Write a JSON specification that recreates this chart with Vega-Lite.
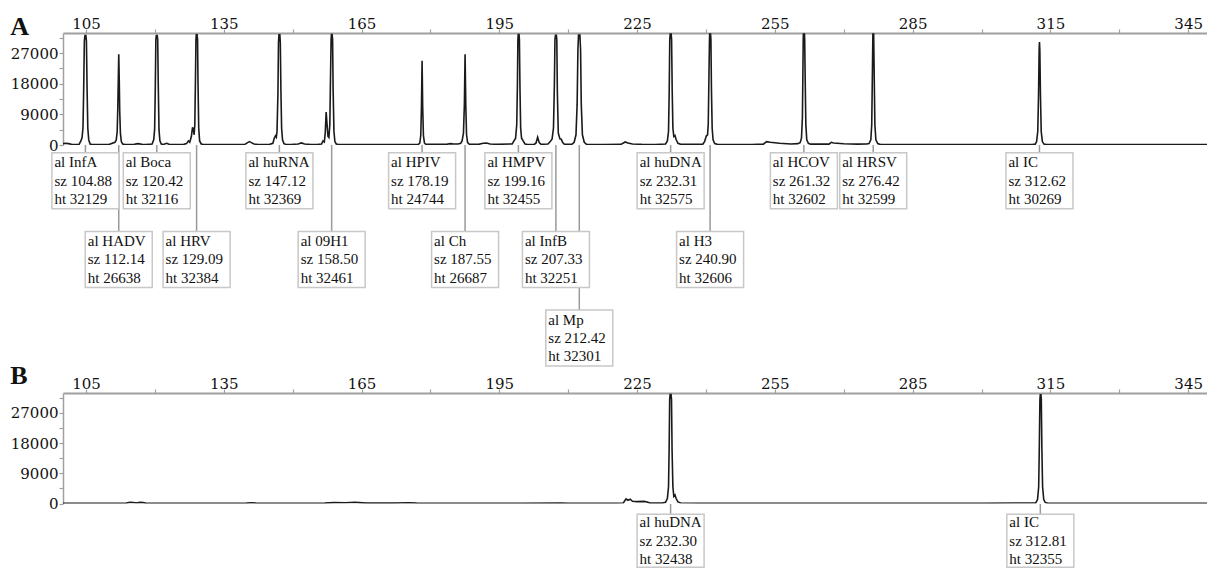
{
"$schema":"https://vega.github.io/schema/vega-lite/v6.json",
"background":"white",
"padding":{"left":10,"top":14,"right":0,"bottom":0},
"spacing":0,
"bounds":"flush",
"config":{"view":{"stroke":null},"font":"DejaVu Serif",
 "axis":{"grid":false,"title":null,"domainColor":"#a0a0a0","tickColor":"#a0a0a0","tickSize":4,"tickWidth":1.2,"labelFont":"DejaVu Serif","labelFontSize":15,"labelColor":"#111","labelPadding":1,"labelOverlap":false,"labelFlush":false,"format":"d"},
 "axisTop":{"labelPadding":-2}},
"datasets":{
"traceA":[{"s":100,"v":400},{"s":100.5,"v":500},{"s":101.2,"v":400},{"s":102,"v":150},{"s":103.5,"v":200},{"s":103.9,"v":1200},{"s":104.15,"v":2200},{"s":104.35,"v":5000},{"s":104.5,"v":16000},{"s":104.65,"v":30500},{"s":104.78,"v":32129},{"s":104.98,"v":32129},{"s":105.1,"v":30500},{"s":105.25,"v":16000},{"s":105.4,"v":5000},{"s":105.6,"v":1500},{"s":105.9,"v":300},{"s":106.3,"v":150},{"s":108,"v":100},{"s":110,"v":150},{"s":111.3,"v":800},{"s":111.6,"v":1500},{"s":111.8,"v":4000},{"s":111.95,"v":12000},{"s":112.05,"v":20000},{"s":112.14,"v":26638},{"s":112.25,"v":19000},{"s":112.35,"v":10000},{"s":112.5,"v":3500},{"s":112.7,"v":1000},{"s":113,"v":300},{"s":113.5,"v":150},{"s":115.5,"v":200},{"s":116.3,"v":400},{"s":117.2,"v":200},{"s":118,"v":100},{"s":119.4,"v":300},{"s":119.75,"v":1500},{"s":119.95,"v":4500},{"s":120.1,"v":17000},{"s":120.22,"v":31000},{"s":120.32,"v":32116},{"s":120.52,"v":32116},{"s":120.62,"v":31000},{"s":120.75,"v":17000},{"s":120.9,"v":4500},{"s":121.1,"v":1200},{"s":121.4,"v":300},{"s":121.8,"v":150},{"s":122.6,"v":500},{"s":123.2,"v":150},{"s":125,"v":100},{"s":126.3,"v":200},{"s":126.9,"v":400},{"s":127.3,"v":1200},{"s":127.6,"v":800},{"s":127.95,"v":2500},{"s":128.2,"v":5200},{"s":128.4,"v":4500},{"s":128.55,"v":3000},{"s":128.7,"v":6000},{"s":128.85,"v":20000},{"s":128.95,"v":31000},{"s":129.02,"v":32384},{"s":129.2,"v":32384},{"s":129.3,"v":31000},{"s":129.4,"v":18000},{"s":129.55,"v":5000},{"s":129.75,"v":1200},{"s":130.1,"v":300},{"s":130.6,"v":150},{"s":132,"v":100},{"s":136,"v":120},{"s":139.6,"v":200},{"s":140.2,"v":700},{"s":140.6,"v":1000},{"s":141,"v":700},{"s":141.6,"v":300},{"s":142.5,"v":150},{"s":144,"v":150},{"s":145,"v":200},{"s":145.7,"v":500},{"s":146,"v":2000},{"s":146.25,"v":2700},{"s":146.45,"v":2300},{"s":146.6,"v":4000},{"s":146.8,"v":15000},{"s":146.92,"v":30000},{"s":147.02,"v":32369},{"s":147.22,"v":32369},{"s":147.32,"v":30000},{"s":147.45,"v":16000},{"s":147.6,"v":5000},{"s":147.8,"v":1500},{"s":148.1,"v":400},{"s":148.6,"v":150},{"s":150,"v":200},{"s":151.2,"v":300},{"s":151.9,"v":600},{"s":152.6,"v":300},{"s":154,"v":150},{"s":155.5,"v":200},{"s":156.3,"v":300},{"s":156.6,"v":1200},{"s":156.9,"v":900},{"s":157.1,"v":3500},{"s":157.3,"v":9700},{"s":157.5,"v":6000},{"s":157.7,"v":2500},{"s":157.9,"v":2200},{"s":158.1,"v":6000},{"s":158.25,"v":20000},{"s":158.38,"v":31000},{"s":158.45,"v":32461},{"s":158.6,"v":32461},{"s":158.7,"v":31000},{"s":158.82,"v":16000},{"s":159,"v":4000},{"s":159.2,"v":1000},{"s":159.5,"v":300},{"s":160,"v":150},{"s":165,"v":120},{"s":170,"v":120},{"s":175,"v":150},{"s":177.4,"v":200},{"s":177.7,"v":600},{"s":177.9,"v":2800},{"s":178.05,"v":11000},{"s":178.19,"v":24744},{"s":178.32,"v":11000},{"s":178.48,"v":2800},{"s":178.7,"v":600},{"s":179,"v":200},{"s":183.5,"v":200},{"s":184.4,"v":400},{"s":185,"v":300},{"s":186,"v":300},{"s":186.6,"v":500},{"s":186.9,"v":1200},{"s":187.2,"v":3500},{"s":187.4,"v":12000},{"s":187.55,"v":26687},{"s":187.7,"v":12000},{"s":187.87,"v":3000},{"s":188.1,"v":700},{"s":188.5,"v":200},{"s":190.5,"v":200},{"s":191.5,"v":500},{"s":192.2,"v":600},{"s":193,"v":300},{"s":194.5,"v":200},{"s":197.8,"v":300},{"s":198.2,"v":1200},{"s":198.55,"v":2000},{"s":198.8,"v":6000},{"s":198.95,"v":18000},{"s":199.05,"v":31000},{"s":199.12,"v":32455},{"s":199.3,"v":32455},{"s":199.38,"v":31000},{"s":199.5,"v":17000},{"s":199.65,"v":5000},{"s":199.85,"v":2000},{"s":200.2,"v":1200},{"s":200.6,"v":300},{"s":201.2,"v":150},{"s":202.6,"v":150},{"s":203,"v":600},{"s":203.35,"v":2300},{"s":203.7,"v":700},{"s":204.1,"v":200},{"s":205.6,"v":300},{"s":206.1,"v":1000},{"s":206.5,"v":1800},{"s":206.8,"v":5000},{"s":207,"v":18000},{"s":207.12,"v":31000},{"s":207.23,"v":32251},{"s":207.43,"v":32251},{"s":207.52,"v":31000},{"s":207.65,"v":15000},{"s":207.85,"v":3500},{"s":208.2,"v":1800},{"s":208.5,"v":1700},{"s":208.8,"v":700},{"s":209.2,"v":200},{"s":210.8,"v":200},{"s":211.3,"v":800},{"s":211.7,"v":3000},{"s":211.95,"v":12000},{"s":212.12,"v":28000},{"s":212.25,"v":32301},{"s":212.55,"v":32301},{"s":212.7,"v":28000},{"s":212.85,"v":12000},{"s":213.1,"v":3000},{"s":213.5,"v":800},{"s":214,"v":200},{"s":218,"v":150},{"s":221.5,"v":200},{"s":222.4,"v":900},{"s":223,"v":600},{"s":224,"v":300},{"s":226,"v":200},{"s":229,"v":150},{"s":231.2,"v":300},{"s":231.6,"v":1200},{"s":231.85,"v":4000},{"s":232,"v":16000},{"s":232.12,"v":31000},{"s":232.22,"v":32575},{"s":232.42,"v":32575},{"s":232.52,"v":31000},{"s":232.65,"v":16000},{"s":232.8,"v":5000},{"s":233,"v":2500},{"s":233.25,"v":2800},{"s":233.5,"v":1600},{"s":233.9,"v":500},{"s":234.5,"v":200},{"s":239.3,"v":200},{"s":239.7,"v":1000},{"s":240.1,"v":2700},{"s":240.35,"v":3000},{"s":240.5,"v":6000},{"s":240.65,"v":20000},{"s":240.77,"v":31000},{"s":240.82,"v":32606},{"s":241,"v":32606},{"s":241.08,"v":31000},{"s":241.2,"v":16000},{"s":241.35,"v":5000},{"s":241.55,"v":1500},{"s":241.9,"v":400},{"s":242.5,"v":200},{"s":250,"v":150},{"s":252.5,"v":250},{"s":253.2,"v":1000},{"s":254,"v":800},{"s":256,"v":500},{"s":258.5,"v":300},{"s":260,"v":400},{"s":260.5,"v":700},{"s":260.8,"v":2000},{"s":261,"v":8000},{"s":261.1,"v":20000},{"s":261.18,"v":31000},{"s":261.22,"v":32602},{"s":261.45,"v":32602},{"s":261.5,"v":31000},{"s":261.6,"v":20000},{"s":261.75,"v":6000},{"s":261.95,"v":1500},{"s":262.3,"v":500},{"s":262.8,"v":250},{"s":266.8,"v":250},{"s":267.3,"v":800},{"s":267.8,"v":600},{"s":270,"v":350},{"s":273,"v":250},{"s":275,"v":300},{"s":275.5,"v":400},{"s":275.9,"v":1500},{"s":276.1,"v":6000},{"s":276.25,"v":22000},{"s":276.35,"v":32599},{"s":276.52,"v":32599},{"s":276.62,"v":22000},{"s":276.78,"v":6000},{"s":277,"v":1500},{"s":277.4,"v":400},{"s":278,"v":150},{"s":285,"v":120},{"s":295,"v":100},{"s":305,"v":120},{"s":311,"v":150},{"s":311.7,"v":250},{"s":312,"v":1000},{"s":312.25,"v":4000},{"s":312.42,"v":15000},{"s":312.55,"v":28000},{"s":312.62,"v":30269},{"s":312.7,"v":28000},{"s":312.83,"v":15000},{"s":313,"v":4000},{"s":313.25,"v":1000},{"s":313.6,"v":250},{"s":314.2,"v":100},{"s":320,"v":100},{"s":330,"v":100},{"s":340,"v":100},{"s":349.1,"v":100}],
"traceB":[{"s":100,"v":100},{"s":110,"v":100},{"s":113.8,"v":150},{"s":114.6,"v":400},{"s":115.3,"v":350},{"s":116,"v":200},{"s":116.8,"v":350},{"s":117.4,"v":300},{"s":118,"v":150},{"s":125,"v":100},{"s":130,"v":100},{"s":140,"v":150},{"s":141,"v":250},{"s":142,"v":150},{"s":150,"v":100},{"s":157,"v":150},{"s":159,"v":300},{"s":161.5,"v":250},{"s":163.5,"v":400},{"s":164.5,"v":300},{"s":166,"v":150},{"s":172,"v":150},{"s":175.5,"v":250},{"s":177,"v":150},{"s":190,"v":100},{"s":200,"v":100},{"s":208.6,"v":200},{"s":210,"v":100},{"s":220,"v":100},{"s":222,"v":200},{"s":222.6,"v":1400},{"s":223,"v":1000},{"s":223.5,"v":1300},{"s":224,"v":700},{"s":225,"v":600},{"s":226.5,"v":650},{"s":227.2,"v":500},{"s":227.8,"v":150},{"s":230.5,"v":150},{"s":231.2,"v":400},{"s":231.6,"v":1500},{"s":231.85,"v":5000},{"s":232,"v":18000},{"s":232.1,"v":31000},{"s":232.2,"v":32438},{"s":232.4,"v":32438},{"s":232.5,"v":31000},{"s":232.62,"v":16000},{"s":232.8,"v":5000},{"s":233,"v":2200},{"s":233.25,"v":2600},{"s":233.5,"v":1500},{"s":233.9,"v":500},{"s":234.5,"v":200},{"s":240,"v":100},{"s":260,"v":100},{"s":280,"v":100},{"s":300,"v":100},{"s":311.8,"v":200},{"s":312.2,"v":1200},{"s":312.45,"v":5000},{"s":312.6,"v":18000},{"s":312.72,"v":31000},{"s":312.8,"v":32355},{"s":312.95,"v":32355},{"s":313.02,"v":31000},{"s":313.15,"v":16000},{"s":313.3,"v":5000},{"s":313.55,"v":1200},{"s":313.9,"v":300},{"s":314.5,"v":100},{"s":330,"v":100},{"s":349.1,"v":100}],
"peaksA":[
{"sz":104.88,"tier":1,"label":"al InfA\nsz 104.88\nht 32129"},
{"sz":120.42,"tier":1,"label":"al Boca\nsz 120.42\nht 32116"},
{"sz":147.12,"tier":1,"label":"al huRNA\nsz 147.12\nht 32369"},
{"sz":178.19,"tier":1,"label":"al HPIV\nsz 178.19\nht 24744"},
{"sz":199.16,"tier":1,"label":"al HMPV\nsz 199.16\nht 32455"},
{"sz":232.31,"tier":1,"label":"al huDNA\nsz 232.31\nht 32575"},
{"sz":261.32,"tier":1,"label":"al HCOV\nsz 261.32\nht 32602"},
{"sz":276.42,"tier":1,"label":"al HRSV\nsz 276.42\nht 32599"},
{"sz":312.62,"tier":1,"label":"al IC\nsz 312.62\nht 30269"},
{"sz":112.14,"tier":2,"label":"al HADV\nsz 112.14\nht 26638"},
{"sz":129.09,"tier":2,"label":"al HRV\nsz 129.09\nht 32384"},
{"sz":158.5,"tier":2,"label":"al 09H1\nsz 158.50\nht 32461"},
{"sz":187.55,"tier":2,"label":"al Ch\nsz 187.55\nht 26687"},
{"sz":207.33,"tier":2,"label":"al InfB\nsz 207.33\nht 32251"},
{"sz":240.9,"tier":2,"label":"al H3\nsz 240.90\nht 32606"},
{"sz":212.42,"tier":3,"label":"al Mp\nsz 212.42\nht 32301"}],
"peaksB":[
{"sz":232.3,"tier":1,"label":"al huDNA\nsz 232.30\nht 32438"},
{"sz":312.81,"tier":1,"label":"al IC\nsz 312.81\nht 32355"}]
},
"vconcat":[
{"title":{"text":"A","anchor":"start","frame":"bounds","font":"Liberation Serif","fontSize":26,"fontWeight":"bold","color":"#111","offset":-24},
 "width":1144,"height":112,"data":{"name":"traceA"},
 "mark":{"type":"line","color":"#1a1a1a","strokeWidth":1.6,"clip":true},
 "encoding":{
  "x":{"field":"s","type":"quantitative","scale":{"domain":[100,349.1],"nice":false,"zero":false},
   "axis":{"orient":"top","values":[105,120,135,150,165,180,195,210,225,240,255,270,285,300,315,330,345],"labelExpr":"(datum.value-105)%30==0 ? datum.label : ''","domainWidth":2}},
  "y":{"field":"v","type":"quantitative","scale":{"domain":[0,32900],"nice":false},
   "axis":{"values":[0,4500,9000,13500,18000,22500,27000,31500],"labelExpr":"datum.value%9000==0 ? datum.label : ''","domainWidth":1.5}}}},
{"width":1144,"height":247.4,"data":{"name":"peaksA"},
 "encoding":{
  "x":{"field":"sz","type":"quantitative","scale":{"domain":[100,349.1],"nice":false,"zero":false},"axis":null},
  "y":{"field":"tier","type":"quantitative","scale":{"domain":[0.5464,3.69],"reverse":true,"nice":false,"zero":false},"axis":null}},
 "layer":[
  {"mark":{"type":"rule","color":"#9a9a9a","strokeWidth":1.5},"encoding":{"y2":{"value":0}}},
  {"mark":{"type":"rect","width":67,"height":56,"fill":"white","stroke":"#c8c8c8","strokeWidth":1.5}},
  {"mark":{"type":"text","align":"left","baseline":"middle","dx":-31,"dy":-18.3,"lineBreak":"\n","lineHeight":18.3,"font":"Liberation Serif","fontSize":15,"color":"#111"},"encoding":{"text":{"field":"label"}}}
 ]},
{"title":{"text":"B","anchor":"start","frame":"bounds","font":"Liberation Serif","fontSize":26,"fontWeight":"bold","color":"#111","offset":-13},
 "width":1144,"height":110.6,"data":{"name":"traceB"},
 "mark":{"type":"line","color":"#1a1a1a","strokeWidth":1.6,"clip":true},
 "encoding":{
  "x":{"field":"s","type":"quantitative","scale":{"domain":[100,349.1],"nice":false,"zero":false},
   "axis":{"orient":"top","values":[105,120,135,150,165,180,195,210,225,240,255,270,285,300,315,330,345],"labelExpr":"(datum.value-105)%30==0 ? datum.label : ''","domainWidth":2}},
  "y":{"field":"v","type":"quantitative","scale":{"domain":[0,32900],"nice":false},
   "axis":{"values":[0,4500,9000,13500,18000,22500,27000,31500],"labelExpr":"datum.value%9000==0 ? datum.label : ''","domainWidth":1.5}}}},
{"width":1144,"height":64,"data":{"name":"peaksB"},
 "encoding":{
  "x":{"field":"sz","type":"quantitative","scale":{"domain":[100,349.1],"nice":false,"zero":false},"axis":null},
  "y":{"field":"tier","type":"quantitative","scale":{"domain":[0.5337,1.347],"reverse":true,"nice":false,"zero":false},"axis":null}},
 "layer":[
  {"mark":{"type":"rule","color":"#9a9a9a","strokeWidth":1.5},"encoding":{"y2":{"value":0}}},
  {"mark":{"type":"rect","width":67,"height":53,"fill":"white","stroke":"#c8c8c8","strokeWidth":1.5}},
  {"mark":{"type":"text","align":"left","baseline":"middle","dx":-31,"dy":-18.5,"lineBreak":"\n","lineHeight":18.5,"font":"Liberation Serif","fontSize":15,"color":"#111"},"encoding":{"text":{"field":"label"}}}
 ]}
]
}
